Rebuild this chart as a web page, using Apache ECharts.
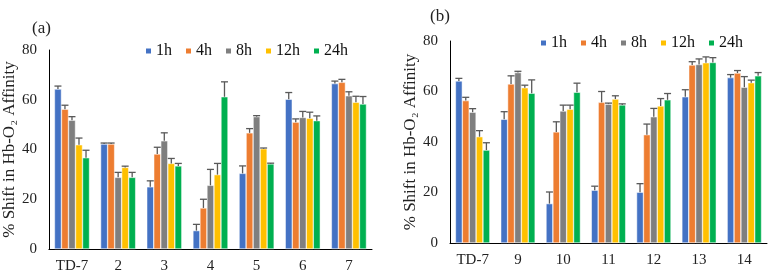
<!DOCTYPE html>
<html>
<head>
<meta charset="utf-8">
<style>
  html, body { margin: 0; padding: 0; background: #fff; }
  #chart { width: 773px; height: 279px; }
</style>
<script src="https://cdn.jsdelivr.net/npm/echarts@6/dist/echarts.min.js"></script>
</head>
<body>
<div id="chart"></div>
<script>
// categories
var catsA = ['TD-7', '2', '3', '4', '5', '6', '7'];
var catsB = ['TD-7', '9', '10', '11', '12', '13', '14'];
var names = ['1h', '4h', '8h', '12h', '24h'];
var colors = ['#4472C4', '#ED7D31', '#7F7F7F', '#FFC000', '#00B050'];
var yTicks = [0, 20, 40, 60, 80];

// panel (a) values, one array per time point
var a1h  = [64.3, 42.2, 25.0, 7.4, 30.4, 60.2, 66.5];
var a4h  = [56.2, 42.2, 38.2, 16.5, 46.7, 51.0, 67.0];
var a8h  = [51.8, 28.8, 43.5, 25.6, 53.2, 52.9, 61.6];
var a12h = [41.9, 32.8, 34.4, 29.9, 40.3, 52.6, 59.0];
var a24h = [36.7, 28.8, 33.4, 61.2, 34.2, 51.6, 58.3];
// panel (a) error bars (upper part)
var aErr1h  = [1.2, 0.4, 2.4, 2.5, 3.0, 2.7, 1.0];
var aErr4h  = [1.6, 0.4, 2.7, 3.5, 1.7, 1.3, 1.2];
var aErr8h  = [1.4, 2.0, 3.2, 6.4, 0.4, 2.4, 1.6];
var aErr12h = [2.7, 0.5, 2.0, 4.5, 0.3, 2.4, 2.4];
var aErr24h = [3.0, 2.0, 1.0, 6.0, 0.3, 1.9, 3.0];

// panel (b) values
var b1h  = [64.2, 49.0, 15.6, 20.9, 20.1, 57.9, 65.5];
var b4h  = [56.4, 63.0, 44.0, 55.7, 42.9, 70.5, 67.3];
var b8h  = [51.8, 67.5, 52.3, 55.0, 50.0, 70.7, 61.7];
var b12h = [42.1, 61.5, 53.0, 57.0, 54.3, 71.4, 63.5];
var b24h = [36.8, 59.3, 59.7, 54.7, 56.7, 71.5, 66.2];
// panel (b) error bars
var bErr1h  = [1.0, 3.0, 4.6, 1.6, 3.4, 2.8, 1.2];
var bErr4h  = [1.3, 3.2, 4.0, 4.3, 4.2, 1.3, 1.0];
var bErr8h  = [1.4, 0.5, 2.3, 0.4, 3.3, 2.2, 4.2];
var bErr12h = [2.4, 1.0, 1.6, 1.3, 2.9, 2.3, 1.0];
var bErr24h = [2.9, 5.3, 3.6, 0.4, 2.5, 1.9, 1.3];

var valsA = [a1h, a4h, a8h, a12h, a24h];
var errsA = [aErr1h, aErr4h, aErr8h, aErr12h, aErr24h];
var valsB = [b1h, b4h, b8h, b12h, b24h];
var errsB = [bErr1h, bErr4h, bErr8h, bErr12h, bErr24h];

var FONT = 'Liberation Serif';
var GAP = 0.24; // barCategoryGap

function errData(vals, errs) {
  var out = [];
  vals.forEach(function (arr, s) {
    arr.forEach(function (v, c) {
      out.push([c, s, v, errs[s][c]]);
    });
  });
  return out;
}

// error bar: stem from bar top up to value+err, with a cap
function renderErr(params, api) {
  var ci = api.value(0), si = api.value(1), v = api.value(2), e = api.value(3);
  var band = api.size([1, 0])[0];
  var groupW = band * (1 - GAP);
  var barW = groupW / 5;
  var base = api.coord([ci, v]);
  var top = api.coord([ci, v + e]);
  var x = base[0] - groupW / 2 + barW * (si + 0.5);
  var st = { stroke: '#595959', lineWidth: 1.3 };
  return {
    type: 'group',
    children: [
      { type: 'line', shape: { x1: x, y1: base[1], x2: x, y2: top[1] }, style: st },
      { type: 'line', shape: { x1: x - 3.5, y1: top[1], x2: x + 3.5, y2: top[1] }, style: st }
    ]
  };
}

var series = [];
[valsA, valsB].forEach(function (vals, p) {
  vals.forEach(function (arr, s) {
    series.push({
      name: names[s],
      type: 'bar',
      xAxisIndex: p,
      yAxisIndex: p,
      data: arr,
      barGap: '0%',
      barCategoryGap: (GAP * 100) + '%',
      itemStyle: { color: colors[s], borderColor: '#fff', borderWidth: 0.5 }
    });
  });
});
series.push({
  type: 'custom', xAxisIndex: 0, yAxisIndex: 0, z: 5,
  renderItem: renderErr, encode: { x: 0, y: 2 },
  data: errData(valsA, errsA)
});
series.push({
  type: 'custom', xAxisIndex: 1, yAxisIndex: 1, z: 5,
  renderItem: renderErr, encode: { x: 0, y: 2 },
  data: errData(valsB, errsB)
});

function xAxis(idx, cats) {
  return {
    type: 'category', gridIndex: idx, data: cats,
    axisLine: { lineStyle: { color: '#000', width: 1 } },
    axisTick: { show: false },
    axisLabel: { color: '#222', fontFamily: FONT, fontSize: 15, margin: 10 }
  };
}
function yAxis(idx, gap) {
  return {
    type: 'value', gridIndex: idx, min: yTicks[0], max: yTicks[yTicks.length - 1], interval: 20,
    name: '% Shift in Hb-O\u2082 Affinity',
    nameLocation: 'middle', nameGap: gap,
    nameTextStyle: { color: '#222', fontFamily: FONT, fontSize: 17 },
    axisLine: { show: true, lineStyle: { color: '#000', width: 1 } },
    axisTick: { show: false },
    splitLine: { show: false },
    axisLabel: { color: '#222', fontFamily: FONT, fontSize: 15, margin: 12 }
  };
}

var legendText = { fontFamily: FONT, fontSize: 16, color: '#111', padding: [0, 0, 0, -1] };

var chart = echarts.init(document.getElementById('chart'));
chart.setOption({
  animation: false,
  title: [
    { text: '(a)', left: 27, top: 15, textStyle: { fontFamily: FONT, fontSize: 17, fontWeight: 'normal', color: '#222' } },
    { text: '(b)', left: 425, top: 3, textStyle: { fontFamily: FONT, fontSize: 17, fontWeight: 'normal', color: '#222' } }
  ],
  legend: [
    { data: names, left: 139, top: 38, icon: 'rect', itemWidth: 7, itemHeight: 7, itemGap: 12, textStyle: legendText },
    { data: names, left: 534, top: 30, icon: 'rect', itemWidth: 7, itemHeight: 7, itemGap: 12, textStyle: legendText }
  ],
  grid: [
    { left: 48, right: 401, top: 50, bottom: 30 },
    { left: 450, right: 6, top: 41, bottom: 36 }
  ],
  xAxis: [xAxis(0, catsA), xAxis(1, catsB)],
  yAxis: [yAxis(0, 20), yAxis(1, 18)],
  series: series
});
</script>
</body>
</html>
